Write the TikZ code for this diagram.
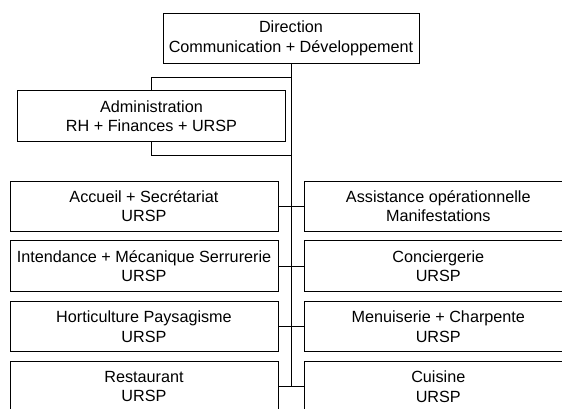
\documentclass[tikz,border=0pt]{standalone}
\usepackage{fontspec}
\setmainfont{Liberation Sans}
\tikzset{unit/.style={draw, line width=0.8pt, minimum width=268pt, minimum height=50.6pt, inner sep=0pt, align=center, font=\fontsize{16.2}{19.5}\selectfont}}
\tikzset{link/.style={line width=0.8pt}}

\begin{document}
\begin{tikzpicture}[x=1pt, y=-1pt]
\clip (0, 0) rectangle (562, 408);
\node[unit, minimum width=256pt] (dir) at (291, 38.5) {Direction\\Communication + Développement};
\node[unit] (adm) at (151.5, 116) {Administration\\RH + Finances + URSP};
\node[unit] (acc) at (144, 206.3) {Accueil + Secrétariat\\URSP};
\node[unit] (int) at (144, 266) {Intendance + Mécanique Serrurerie\\URSP};
\node[unit] (hort) at (144, 326.5) {Horticulture Paysagisme\\URSP};
\node[unit] (rest) at (144, 386.7) {Restaurant\\URSP};
\node[unit] (ass) at (438.3, 206.3) {Assistance opérationnelle\\Manifestations};
\node[unit] (conc) at (438.3, 266) {Conciergerie\\URSP};
\node[unit] (menu) at (438.3, 326.5) {Menuiserie + Charpente\\URSP};
\node[unit] (cuis) at (438.3, 386.7) {Cuisine\\URSP};
\coordinate (up) at (291, 77.3);
\coordinate (down) at (291, 155);
\draw[link] (dir.south) -- (dir.south |- rest.east);
\draw[link] (up) -| (adm.north);
\draw[link] (adm.south) |- (down);
\draw[link] (acc.east) -- (ass.west);
\draw[link] (int.east) -- (conc.west);
\draw[link] (hort.east) -- (menu.west);
\draw[link] (rest.east) -- (cuis.west);
\end{tikzpicture}
\end{document}
